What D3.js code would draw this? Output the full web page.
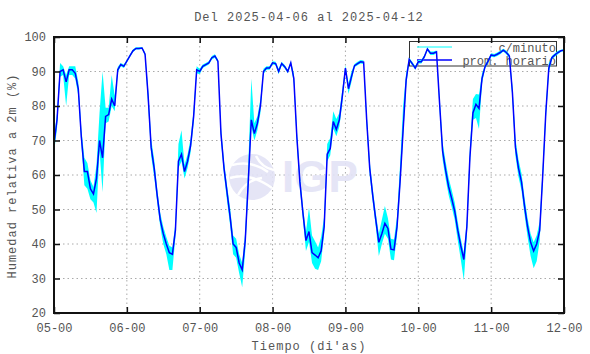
<!DOCTYPE html>
<html>
<head>
<meta charset="utf-8">
<script src="https://cdn.jsdelivr.net/npm/d3@7"></script>
<style>
  body { margin: 0; background: #fff; }
  text { font-family: "Liberation Mono", "DejaVu Sans Mono", monospace; fill: #555; }
</style>
</head>
<body>
<div id="chart"></div>
<script>
// promedio horario (%), una hora por valor desde 05-00
const hourly = [
  69, 76, 90, 90.5, 87, 90.5, 90.5, 89.5, 85, 71, 61, 61, 56, 54.5, 59, 70, 65, 77, 77.5, 82, 80, 90.5, 92, 91.5,
  93, 94.5, 96, 96.7, 96.7, 96.8, 95, 83, 68, 62, 54, 47, 43, 40, 37.5, 37, 44, 64, 66, 61, 64, 68.5, 77, 90.5,
  90, 91.5, 92, 92.5, 94, 94.5, 93, 72, 62, 55, 48, 40, 39, 34.5, 32.5, 41, 58, 76, 72, 75, 80, 90, 91, 91,
  92.5, 92.3, 90, 92.3, 91.4, 90, 92.5, 88, 71, 58, 49, 41, 43.6, 37.5, 36.8, 36, 38, 45, 66, 67.7, 75.5, 73.2, 76, 83,
  91, 85, 88.5, 91.7, 92.3, 92.8, 92.7, 76, 62, 54, 47, 40.5, 43, 46, 44.5, 38.5, 38.3, 45, 58, 73, 87.5, 93.5, 92.3, 91,
  92.8, 92.8, 94.3, 96.5, 95.3, 95.3, 95.7, 81, 67, 61.4, 56.6, 53.2, 49.5, 44, 39.5, 35.5, 45, 65, 78, 80.5, 79.3, 88, 91.4, 93,
  94.8, 94.6, 95, 95.5, 96.2, 95.5, 94.5, 84, 68, 62, 58, 51, 45, 40.5, 38, 40, 44, 60, 77.9, 91, 94, 94.8, 95.5, 96, 96.2
];
// dispersion de los datos c/minuto dentro de cada hora (por encima / por debajo)
const minuteUp = [
  2, 2, 2.5, 1, 2, 1, 1, 2, 2, 2.5, 4, 2.5, 2.5, 2, 4, 8, 25, 2.5, 2, 7, 3, 0.8, 0.5, 0.5,
  0.4, 0.4, 0.4, 0.3, 0.3, 0.3, 0.5, 2, 2.5, 2.5, 2, 2, 2, 2, 2, 2, 2, 5, 7, 2, 2, 2, 2, 1,
  0.8, 0.5, 0.5, 0.5, 0.5, 0.5, 0.5, 2, 2, 2, 2.5, 2.5, 2.5, 2.5, 2, 2.5, 5, 12, 3, 2, 2, 0.8, 0.5, 0.5,
  0.5, 0.5, 0.8, 0.5, 0.5, 0.5, 0.5, 1.5, 2, 2, 2, 2.5, 7, 5, 4, 3, 4, 3, 3, 3, 3, 3, 2, 2,
  0.8, 1.5, 1.5, 0.5, 0.5, 0.5, 0.5, 2, 2, 2, 2, 2.5, 4, 5, 3, 3, 3, 3, 5, 7, 2, 0.5, 0.5, 0.5,
  0.5, 0.5, 0.5, 0.4, 0.5, 0.5, 0.4, 2, 2.5, 2.5, 2.5, 2.5, 2.5, 2.5, 2, 2, 2, 3, 4, 3, 4, 1.5, 0.5, 0.5,
  0.5, 0.5, 0.5, 0.5, 0.4, 0.5, 0.5, 2, 2.5, 2.5, 2.5, 2.5, 2.5, 2.5, 2.5, 2.5, 2.5, 2.5, 2, 1.5, 0.5, 0.5, 0.5, 0.3, 0.3
];
const minuteDown = [
  2.5, 2.5, 1.5, 1.5, 7, 1.5, 1.5, 1.5, 2, 2, 4, 5, 3, 2.5, 10, 3, 10, 2, 2, 2, 1.5, 0.8, 0.5, 0.5,
  0.4, 0.4, 0.4, 0.3, 0.3, 0.3, 0.5, 2.5, 2.5, 2.5, 2, 2, 3, 3, 5, 4.5, 2, 2, 2, 2, 2, 2, 2, 1,
  0.8, 0.5, 0.5, 0.5, 0.5, 0.5, 0.5, 2, 2, 2.5, 2.5, 3, 3, 3, 5, 3, 2.5, 2, 2, 2, 2, 0.8, 0.5, 0.5,
  0.5, 0.5, 0.8, 0.5, 0.5, 0.5, 0.5, 1.5, 2, 2, 2, 3, 3, 3, 4, 3.5, 3, 2, 2, 2, 2, 2, 2, 2,
  0.8, 1.5, 1.5, 0.5, 0.5, 0.5, 0.5, 2, 2, 2, 2, 4, 3, 3, 3, 3, 3, 2.5, 2, 2, 2, 0.5, 0.5, 0.5,
  0.5, 0.5, 0.5, 0.4, 0.5, 0.5, 0.4, 2, 2.5, 2.5, 2.5, 2.5, 2.5, 3, 4, 6, 3, 2, 2, 4, 6, 1.5, 0.5, 0.5,
  0.5, 0.5, 0.5, 0.5, 0.4, 0.5, 0.5, 2, 2.5, 2.5, 2.5, 2.5, 3, 4, 5, 5, 3, 2, 2, 1.5, 0.5, 0.5, 0.5, 0.3, 0.3
];
const yTicks = [20, 30, 40, 50, 60, 70, 80, 90, 100];
const xTickLabels = ['05-00', '06-00', '07-00', '08-00', '09-00', '10-00', '11-00', '12-00'];

const width = 590;
const height = 354;
const margin = {top: 37, right: 26, bottom: 41, left: 54};

const svg = d3.select('#chart').append('svg')
    .attr('width', width)
    .attr('height', height);

const x = d3.scaleLinear()
    .domain([0, 168])
    .range([margin.left, width - margin.right]);

const y = d3.scaleLinear()
    .domain([20, 100])
    .range([height - margin.bottom, margin.top]);

const xTickValues = xTickLabels.map((d, i) => i * 24);

// grid
svg.append('g')
    .selectAll('line')
    .data(xTickValues.slice(1, -1))
    .join('line')
        .attr('x1', d => x(d)).attr('x2', d => x(d))
        .attr('y1', y(20)).attr('y2', y(100))
        .attr('stroke', '#aaa')
        .attr('stroke-dasharray', '1.5,3');

svg.append('g')
    .selectAll('line')
    .data(yTicks.slice(1, -1))
    .join('line')
        .attr('x1', x(0)).attr('x2', x(168))
        .attr('y1', d => y(d)).attr('y2', d => y(d))
        .attr('stroke', '#aaa')
        .attr('stroke-dasharray', '1.5,3');

// marca de agua IGP
const logo = svg.append('g').attr('opacity', 0.9);
logo.append('circle')
    .attr('cx', 252).attr('cy', 177).attr('r', 23)
    .attr('fill', '#e3e3f6');
logo.append('path')
    .attr('d', 'M232,165 Q252,160 268,172 M230,178 Q250,172 272,188 M238,195 Q246,180 262,178 M256,156 Q262,168 274,170')
    .attr('fill', 'none')
    .attr('stroke', '#fff')
    .attr('stroke-width', 2.5);
logo.append('text')
    .attr('x', 282).attr('y', 192)
    .style('font-family', '"Liberation Sans", Arial, sans-serif')
    .style('font-weight', 'bold')
    .style('font-size', '44px')
    .style('fill', '#e3e3f6')
    .text('IGP');

// leyenda (debajo de los datos)
const legend = svg.append('g');
legend.append('rect')
    .attr('x', 409.5).attr('y', 41.5)
    .attr('width', 147).attr('height', 24.5)
    .attr('fill', 'none')
    .attr('stroke', '#333');
legend.append('line')
    .attr('x1', 417).attr('x2', 452).attr('y1', 47).attr('y2', 47)
    .attr('stroke', '#00ffff').attr('stroke-width', 1);
legend.append('line')
    .attr('x1', 417).attr('x2', 452).attr('y1', 60).attr('y2', 60)
    .attr('stroke', '#0000ff').attr('stroke-width', 1.5);
legend.append('text')
    .attr('x', 556).attr('y', 52)
    .attr('text-anchor', 'end')
    .style('font-size', '12px')
    .text('c/minuto');
legend.append('text')
    .attr('x', 556).attr('y', 64.5)
    .attr('text-anchor', 'end')
    .style('font-size', '12px')
    .text('prom. horario');

// datos c/minuto (banda) y promedio horario
const area = d3.area()
    .x((d, i) => x(i))
    .y0((d, i) => y(d - minuteDown[i]))
    .y1((d, i) => y(d + minuteUp[i]));

svg.append('path')
    .datum(hourly)
    .attr('d', area)
    .attr('fill', '#00ffff');

const line = d3.line()
    .x((d, i) => x(i))
    .y(d => y(d));

svg.append('path')
    .datum(hourly)
    .attr('d', line)
    .attr('fill', 'none')
    .attr('stroke', '#0000ff')
    .attr('stroke-width', 1.5);

// ejes
const xAxis = svg.append('g')
    .attr('transform', `translate(0, ${y(20)})`)
    .call(d3.axisBottom(x)
        .tickValues(xTickValues)
        .tickFormat((d, i) => xTickLabels[i])
        .tickSizeInner(-6).tickSizeOuter(0).tickPadding(10));

const xAxisTop = svg.append('g')
    .attr('transform', `translate(0, ${y(100)})`)
    .call(d3.axisTop(x)
        .tickValues(xTickValues)
        .tickFormat('')
        .tickSizeInner(-6).tickSizeOuter(0));

const yAxis = svg.append('g')
    .attr('transform', `translate(${x(0)}, 0)`)
    .call(d3.axisLeft(y)
        .tickValues(yTicks)
        .tickSizeInner(-6).tickSizeOuter(0).tickPadding(8));

const yAxisRight = svg.append('g')
    .attr('transform', `translate(${x(168)}, 0)`)
    .call(d3.axisRight(y)
        .tickValues(yTicks)
        .tickFormat('')
        .tickSizeInner(-6).tickSizeOuter(0));

[xAxis, xAxisTop, yAxis, yAxisRight].forEach(g => {
    g.select('.domain').remove();
    g.selectAll('line').attr('stroke', '#111').attr('stroke-width', 1.5);
    g.selectAll('text')
        .style('font-family', '"Liberation Mono", "DejaVu Sans Mono", monospace')
        .style('font-size', '12px')
        .attr('fill', '#555');
});

svg.append('rect')
    .attr('x', x(0)).attr('y', y(100))
    .attr('width', x(168) - x(0))
    .attr('height', y(20) - y(100))
    .attr('fill', 'none')
    .attr('stroke', '#111')
    .attr('stroke-width', 2);

// titulos
svg.append('text')
    .attr('x', 309).attr('y', 21)
    .attr('text-anchor', 'middle')
    .style('font-size', '12px')
    .style('letter-spacing', '1px')
    .text('Del 2025-04-06 al 2025-04-12');

svg.append('text')
    .attr('x', 309).attr('y', 350)
    .attr('text-anchor', 'middle')
    .style('font-size', '12px')
    .style('letter-spacing', '1px')
    .text("Tiempo (di'as)");

svg.append('text')
    .attr('transform', 'translate(16, 176) rotate(-90)')
    .attr('text-anchor', 'middle')
    .style('font-size', '12px')
    .style('letter-spacing', '1px')
    .text('Humedad relativa a 2m (%)');
</script>
</body>
</html>
